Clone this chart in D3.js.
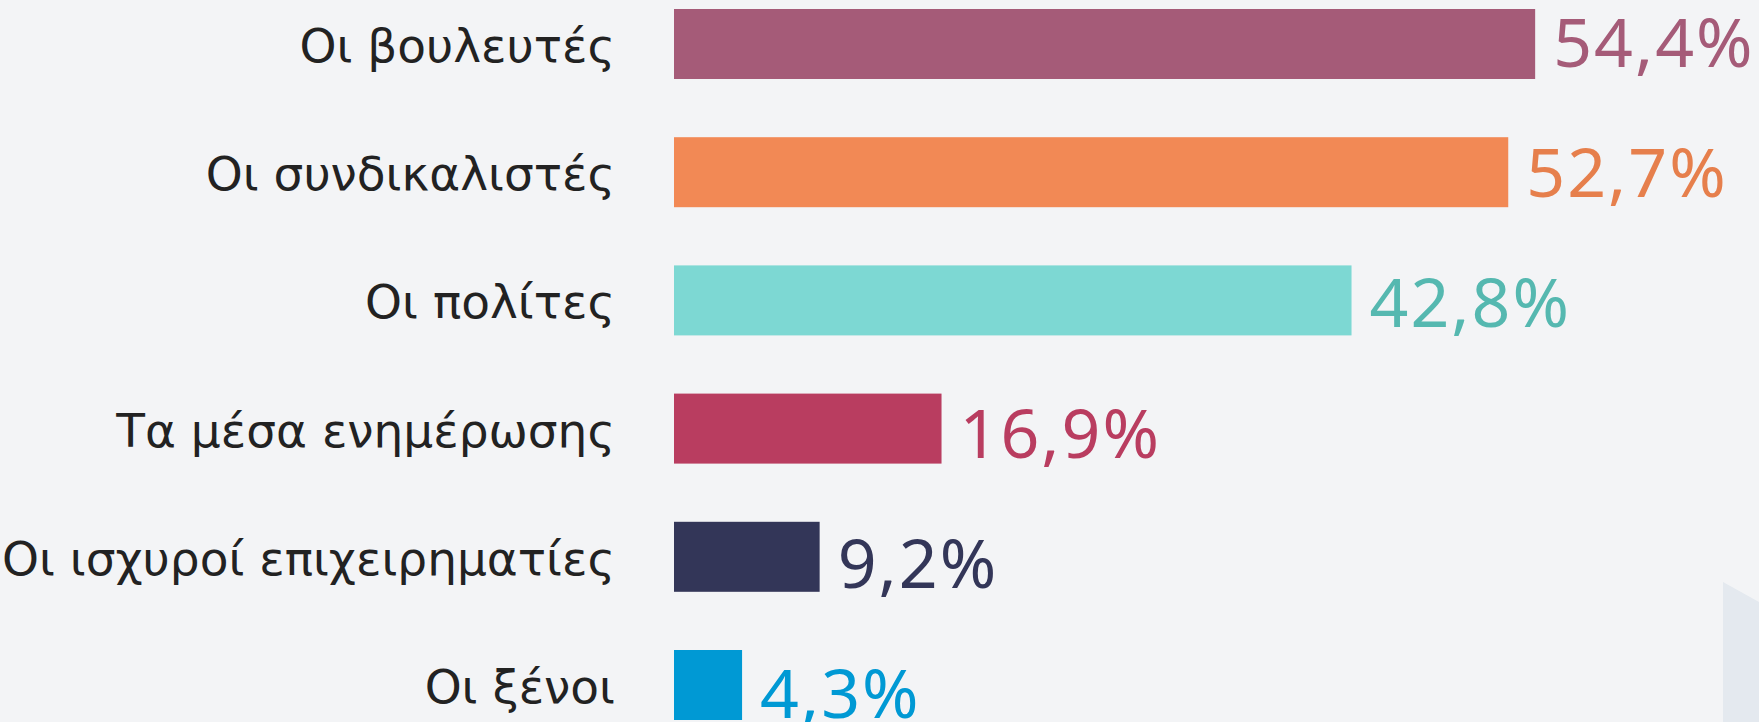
<!DOCTYPE html>
<html>
<head>
<meta charset="utf-8">
<script src="https://cdn.jsdelivr.net/npm/d3@7"></script>
<style>
  html, body { margin: 0; padding: 0; background: #f3f4f6; overflow: hidden; }
</style>
</head>
<body>
<div id="chart"></div>
<script>
// data
const categories = ["Οι βουλευτές", "Οι συνδικαλιστές", "Οι πολίτες", "Τα μέσα ενημέρωσης", "Οι ισχυροί επιχειρηματίες", "Οι ξένοι"];
const values = [54.4, 52.7, 42.8, 16.9, 9.2, 4.3];
const valueLabels = ["54,4%", "52,7%", "42,8%", "16,9%", "9,2%", "4,3%"];
const barColors = ["#a55b78", "#f28955", "#7dd8d3", "#b93d60", "#333658", "#0099d4"];
const textColors = ["#a55b78", "#e67f4c", "#55b8b0", "#b93d60", "#333658", "#0099d4"];

const width = 1759, height = 722;

const svg = d3.select("#chart").append("svg")
    .attr("width", width)
    .attr("height", height);

// faint decoration bottom right
svg.append("polygon")
    .attr("points", "1723,582 1759,602 1759,722 1723,722")
    .attr("fill", "#e4e9ef");

const x = d3.scaleLinear()
    .domain([0, 100])
    .range([674, 674 + 1583]);

const y = d3.scaleBand()
    .domain(categories)
    .range([9, 720])
    .paddingInner(0.454)
    .paddingOuter(0)
    .align(0);

const rows = categories.map((c, i) => ({ cat: c, value: values[i], label: valueLabels[i], bar: barColors[i], txt: textColors[i], i: i }));

// bars
svg.append("g").selectAll("rect")
    .data(rows)
    .join("rect")
    .attr("x", x(0))
    .attr("y", d => y(d.cat))
    .attr("width", d => x(d.value) - x(0))
    .attr("height", y.bandwidth())
    .attr("fill", d => d.bar);

// category labels
svg.append("g").selectAll("text")
    .data(rows)
    .join("text")
    .attr("x", 615)
    .attr("y", d => y(d.cat) + y.bandwidth() / 2 + 18)
    .attr("text-anchor", "end")
    .attr("font-family", "'DejaVu Sans', sans-serif")
    .attr("font-size", 47)
    .attr("fill", "#222")
    .text(d => d.cat);

// value labels
svg.append("g").selectAll("text")
    .data(rows)
    .join("text")
    .attr("x", d => x(d.value) + 18)
    .attr("y", d => y(d.cat) + y.bandwidth() / 2 + 23 + d.i * 2)
    .attr("font-family", "'Noto Sans', sans-serif")
    .attr("font-size", 68)
    .attr("letter-spacing", 2)
    .attr("fill", d => d.txt)
    .text(d => d.label);
</script>
</body>
</html>
